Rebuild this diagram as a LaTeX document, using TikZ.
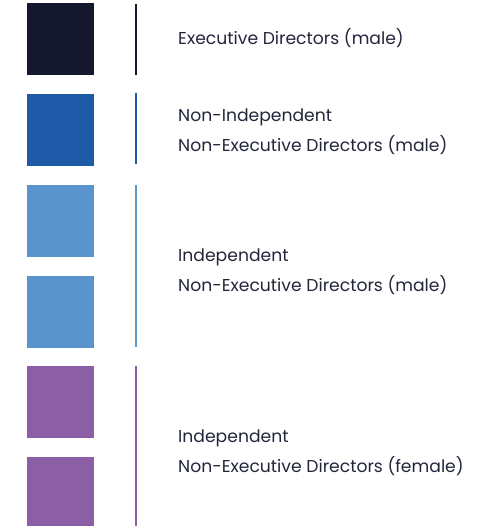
\documentclass[tikz,border=0pt]{standalone}
\usepackage{fontspec}
\setmainfont{Poppins}
\definecolor{cdark}{HTML}{15172E}
\definecolor{cblue}{HTML}{1F5AA8}
\definecolor{clight}{HTML}{5A94CC}
\definecolor{cpurple}{HTML}{8B5EA6}
\definecolor{ctext}{HTML}{23263B}
\begin{document}
\begin{tikzpicture}[x=1pt,y=-1pt,
  swatch/.style={fill=#1,draw=none,inner sep=0pt,minimum width=67pt,minimum height=72pt,anchor=north west},
  bar/.style={draw=#1,line width=2pt},
  lbl/.style={anchor=base west,inner sep=0pt,text=ctext,font=\fontsize{17.2}{30}\selectfont,align=left}]
\useasboundingbox (0,0) rectangle (488,526);
\node[swatch=cdark] (s1) at (27,3) {};
\node[swatch=cblue] (s2) at (27,94) {};
\node[swatch=clight] (s3) at (27,185) {};
\node[swatch=clight] (s4) at (27,276) {};
\node[swatch=cpurple] (s5) at (27,366) {};
\node[swatch=cpurple] (s6) at (27,457) {};
\coordinate (b1t) at (135.5,4); \coordinate (b1b) at (135.5,75);
\coordinate (b2t) at (135.5,93); \coordinate (b2b) at (135.5,164);
\coordinate (b3t) at (135.5,185); \coordinate (b3b) at (135.5,347);
\coordinate (b4t) at (135.5,366); \coordinate (b4b) at (135.5,526);
\draw[bar=cdark] (b1t) -- (b1b);
\draw[bar=cblue] (b2t) -- (b2b);
\draw[bar=clight] (b3t) -- (b3b);
\draw[bar=cpurple] (b4t) -- (b4b);
\node[lbl] (t1) at (178,45) {Executive Directors (male)};
\node[lbl] (t2a) at (178,122) {Non-Independent};
\node[lbl] (t2b) at (178,152) {Non-Executive Directors (male)};
\node[lbl] (t3a) at (178,261) {Independent};
\node[lbl] (t3b) at (178,291) {Non-Executive Directors (male)};
\node[lbl] (t4a) at (178,442) {Independent};
\node[lbl] (t4b) at (178,472) {Non-Executive Directors (female)};
\end{tikzpicture}
\end{document}
